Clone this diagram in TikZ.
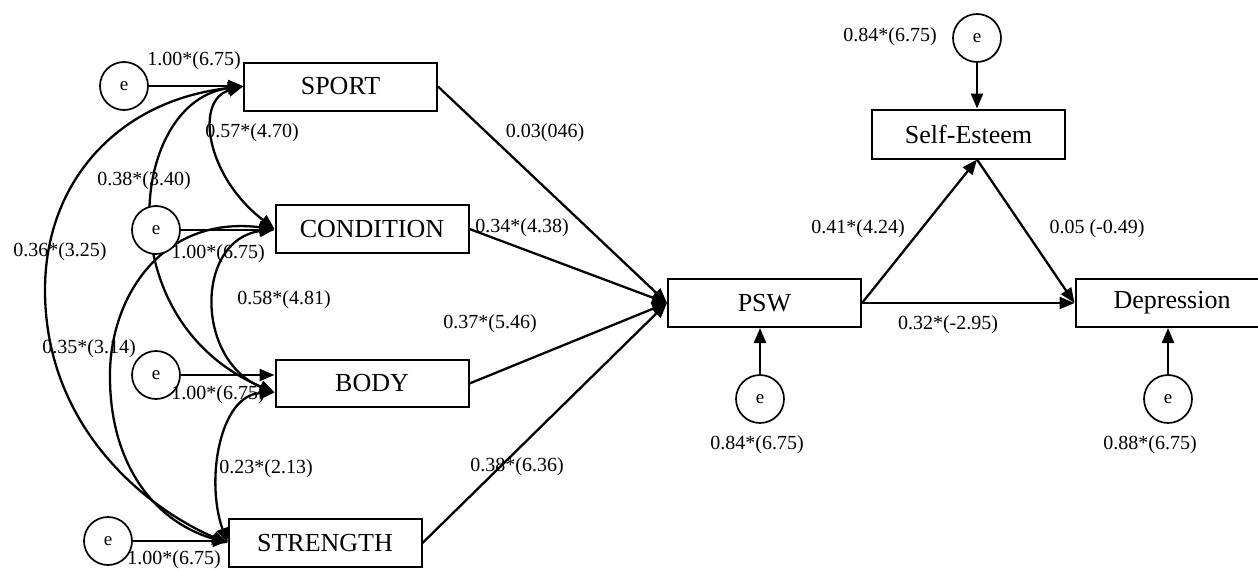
\documentclass[tikz,border=0pt]{standalone}
\usepackage{fontspec}
\setmainfont{Liberation Serif}
\usetikzlibrary{arrows.meta}
\begin{document}
\begin{tikzpicture}[x=1pt,y=-1pt,
 box/.style={draw,line width=2pt,minimum width=193pt,minimum height=48pt,inner sep=0pt,font=\fontsize{26}{30}\selectfont},
 err/.style={draw,circle,line width=1.7pt,minimum size=48pt,inner sep=0pt,fill=white,font=\fontsize{19}{22}\selectfont},
 lab/.style={inner sep=0pt,font=\fontsize{20}{24}\selectfont},
 arr/.style={line width=2.3pt,-{Triangle[length=15pt,width=12pt]}},
 dbl/.style={line width=2.3pt,{Triangle[length=15pt,width=12pt]}-{Triangle[length=15pt,width=12pt]}},
]
\useasboundingbox (0,0) rectangle (1258,570);

% boxes
\node[box] (sport) at (340.5,86.5) {SPORT};
\node[box] (cond) at (372,229) {CONDITION};
\node[box,minimum height=47pt] (body) at (372,383.5) {BODY};
\node[box] (str) at (325,543) {STRENGTH};
\node[box] (psw) at (764.5,303) {PSW};
\node[box,minimum height=49pt] (se) at (968.5,134) {Self-Esteem};
\node[box] (dep) at (1172,303) {Depression};

% correlations
\draw[dbl] (sport.west) .. controls (195,100) and (205,175) .. (cond.west);
\draw[dbl] (sport.west) .. controls (130,100) and (105,320) .. ([yshift=-9pt]body.west);
\draw[dbl] (sport.west) .. controls (120,100) and (45,180) .. (45,290) .. controls (45,430) and (150,510) .. (str.west);
\draw[dbl] (cond.west) .. controls (195,240) and (195,360) .. ([yshift=-9pt]body.west);
\draw[dbl] (cond.west) .. controls (160,215) and (108,300) .. (110,380) .. controls (111,460) and (150,520) .. (str.west);
\draw[dbl] ([yshift=-9pt]body.west) .. controls (220,395) and (205,480) .. (str.west);

% error terms
\node[err] (e1) at (124,86) {e};
\node[err] (e2) at (156,230) {e};
\node[err] (e3) at (156,375) {e};
\node[err] (e4) at (108,541) {e};
\node[err] (ese) at (977,38) {e};
\node[err] (epsw) at (760,399) {e};
\node[err] (edep) at (1168,399) {e};

\draw[arr] (e1) -- (e1 -| sport.west);
\draw[arr] (e2) -- (e2 -| cond.west);
\draw[arr] (e3) -- (e3 -| body.west);
\draw[arr] (e4) -- (e4 -| str.west);
\draw[arr] (ese) -- (ese |- se.north);
\draw[arr] (epsw) -- (epsw |- psw.south);
\draw[arr] (edep) -- (edep |- dep.south);

% paths
\draw[arr] (sport.east) -- (psw.west);
\draw[arr] (cond.east) -- (psw.west);
\draw[arr] (body.east) -- (psw.west);
\draw[arr] (str.east) -- (psw.west);
\draw[arr] (psw.east) -- (ese |- se.south);
\draw[arr] (ese |- se.south) -- (dep.west);
\draw[arr] (psw.east) -- (dep.west);

% labels
\node[lab] (l1) at (194,61) {1.00*(6.75)};
\node[lab] (l2) at (252,133) {0.57*(4.70)};
\node[lab] (l3) at (144,181) {0.38*(3.40)};
\node[lab] (l4) at (60,252) {0.36*(3.25)};
\node[lab] (l5) at (218,254) {1.00*(6.75)};
\node[lab] (l6) at (284,300) {0.58*(4.81)};
\node[lab] (l7) at (89,349) {0.35*(3.14)};
\node[lab] (l8) at (218,395) {1.00*(6.75)};
\node[lab] (l9) at (266,469) {0.23*(2.13)};
\node[lab] (l10) at (174,560) {1.00*(6.75)};
\node[lab] (l11) at (545,133) {0.03(046)};
\node[lab] (l12) at (522,228) {0.34*(4.38)};
\node[lab] (l13) at (490,324) {0.37*(5.46)};
\node[lab] (l14) at (517,467) {0.38*(6.36)};
\node[lab] (l15) at (858,229) {0.41*(4.24)};
\node[lab] (l16) at (1097,229) {0.05 (-0.49)};
\node[lab] (l17) at (890,37) {0.84*(6.75)};
\node[lab] (l18) at (948,325) {0.32*(-2.95)};
\node[lab] (l19) at (757,445) {0.84*(6.75)};
\node[lab] (l20) at (1150,445) {0.88*(6.75)};
\end{tikzpicture}
\end{document}
